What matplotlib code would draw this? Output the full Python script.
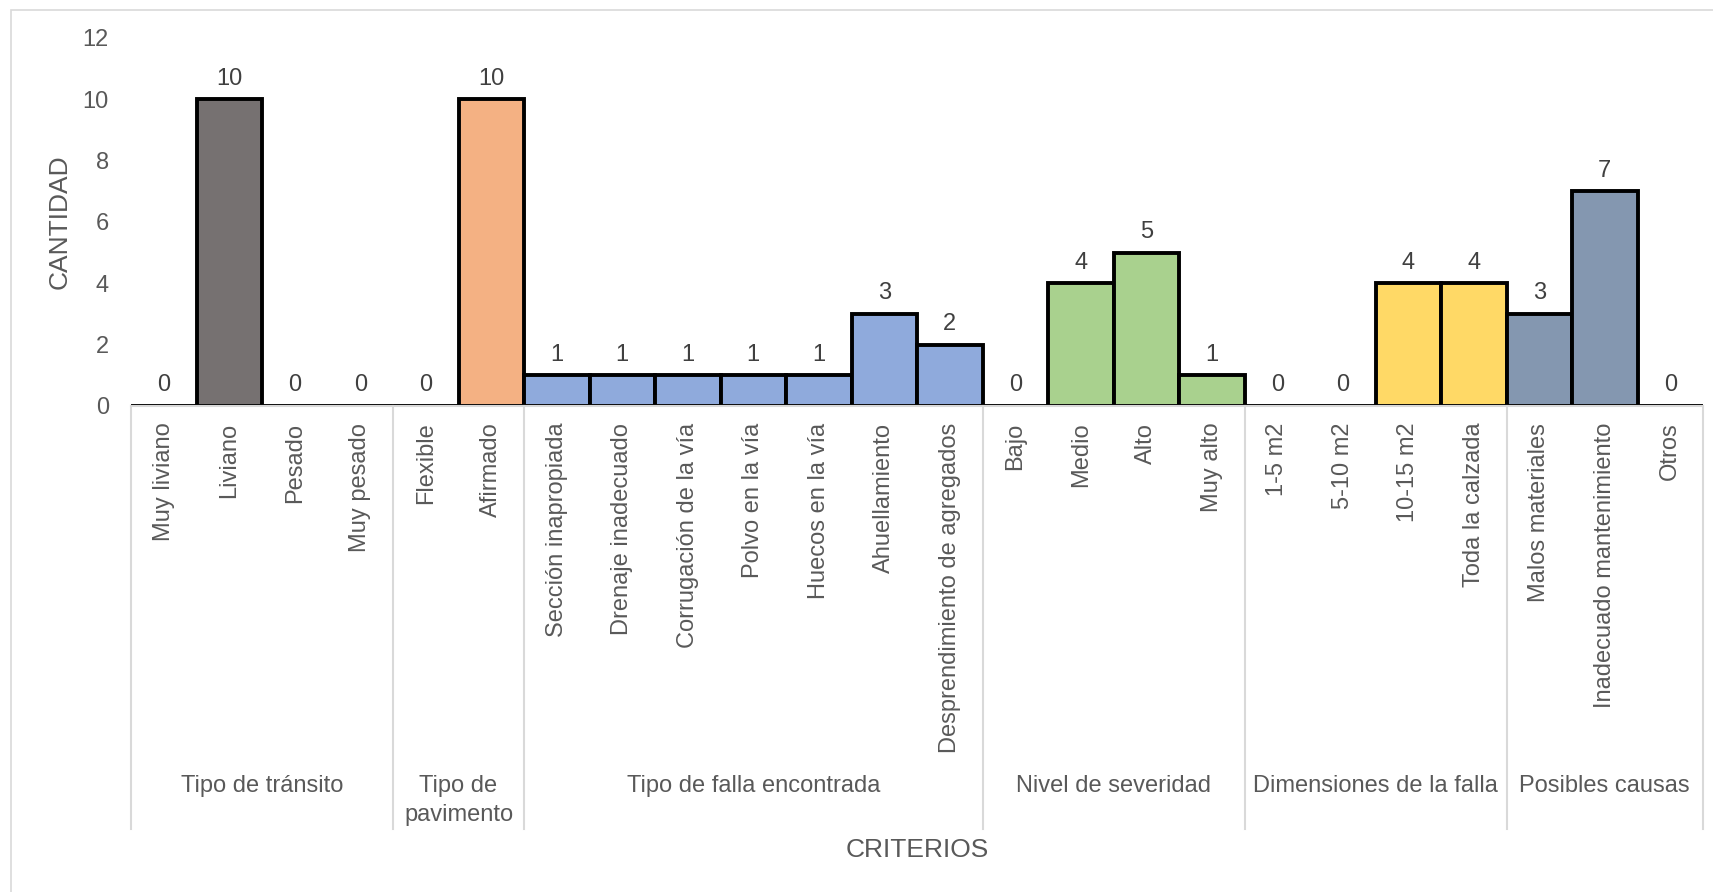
import matplotlib
matplotlib.use('Agg')
import matplotlib.pyplot as plt
from matplotlib.transforms import blended_transform_factory
from matplotlib.patches import Rectangle

# 데이터
grupos = ['Tipo de tránsito', 'Tipo de\npavimento', 'Tipo de falla encontrada',
          'Nivel de severidad', 'Dimensiones de la falla', 'Posibles causas']
n_por_grupo = [4, 2, 7, 4, 4, 3]
colores_grupo = ['#767171', '#F4B183', '#8FAADC', '#A9D18E', '#FFD966', '#8497B0']

categorias = ['Muy liviano', 'Liviano', 'Pesado', 'Muy pesado',
              'Flexible', 'Afirmado',
              'Sección inapropiada', 'Drenaje inadecuado', 'Corrugación de la vía',
              'Polvo en la vía', 'Huecos en la vía', 'Ahuellamiento',
              'Desprendimiento de agregados',
              'Bajo', 'Medio', 'Alto', 'Muy alto',
              '1-5 m2', '5-10 m2', '10-15 m2', 'Toda la calzada',
              'Malos materiales', 'Inadecuado mantenimiento', 'Otros']
valores = [0, 10, 0, 0,
           0, 10,
           1, 1, 1, 1, 1, 3, 2,
           0, 4, 5, 1,
           0, 0, 4, 4,
           3, 7, 0]

plt.rcParams['font.family'] = ['Liberation Sans', 'DejaVu Sans']
gris = '#595959'
linea = '#D9D9D9'
fs = 17

W, H = 1713, 892
fig = plt.figure(figsize=(W / 100, H / 100), dpi=100)

# marco exterior
fig.patches.append(Rectangle((11 / W, -0.05), 1.2, (892 - 10) / H + 0.05,
                             transform=fig.transFigure, fill=False,
                             edgecolor=linea, linewidth=1.2))

x0, x1 = 131, 1703
y0, y12 = 406, 38
ax = fig.add_axes([x0 / W, (H - y0) / H, (x1 - x0) / W, (y0 - y12) / H])

colores = []
for c, n in zip(colores_grupo, n_por_grupo):
    colores += [c] * n

x = list(range(len(categorias)))
barras = ax.bar(x, valores, width=1.0, color=colores, edgecolor='black', linewidth=2.8)

for xi, v in zip(x, valores):
    ax.annotate(str(v), (xi, v), xytext=(0, 7), textcoords='offset points',
                ha='center', va='bottom', fontsize=fs, color='#404040')

ax.set_xlim(-0.5, len(categorias) - 0.5)
ax.set_ylim(0, 12)
ax.set_yticks(range(0, 13, 2))
ax.set_xticks(x)
ax.set_xticklabels(categorias, rotation=90, va='top', ha='center')
ax.tick_params(axis='x', length=0, pad=12, labelsize=fs, labelcolor=gris)
ax.tick_params(axis='y', length=0, pad=16, labelsize=fs, labelcolor=gris)

for s in ['top', 'right', 'left']:
    ax.spines[s].set_visible(False)
ax.spines['bottom'].set_color(linea)
ax.spines['bottom'].set_linewidth(1.5)

# separadores y nombres de grupo
tr = blended_transform_factory(ax.transData, ax.transAxes)
y_fin = (y0 - 829) / (y0 - y12)
y_grupo = (y0 - 775) / (y0 - y12)
inicio = -0.5
for g, n in zip(grupos, n_por_grupo):
    ax.plot([inicio, inicio], [0, y_fin], color=linea, lw=1.5,
            transform=tr, clip_on=False)
    ax.text(inicio + n / 2, y_grupo, g, transform=tr, ha='center', va='top',
            fontsize=fs, color=gris, linespacing=1.4)
    inicio += n
ax.plot([inicio, inicio], [0, y_fin], color=linea, lw=1.5,
        transform=tr, clip_on=False)

fig.text(60 / W, (H - (y0 + y12) / 2) / H, 'CANTIDAD', rotation=90,
         ha='center', va='center', fontsize=19, color=gris)
fig.text((x0 + x1) / 2 / W, (H - 850) / H, 'CRITERIOS',
         ha='center', va='center', fontsize=19, color=gris)

plt.savefig('out.png', dpi=100)
